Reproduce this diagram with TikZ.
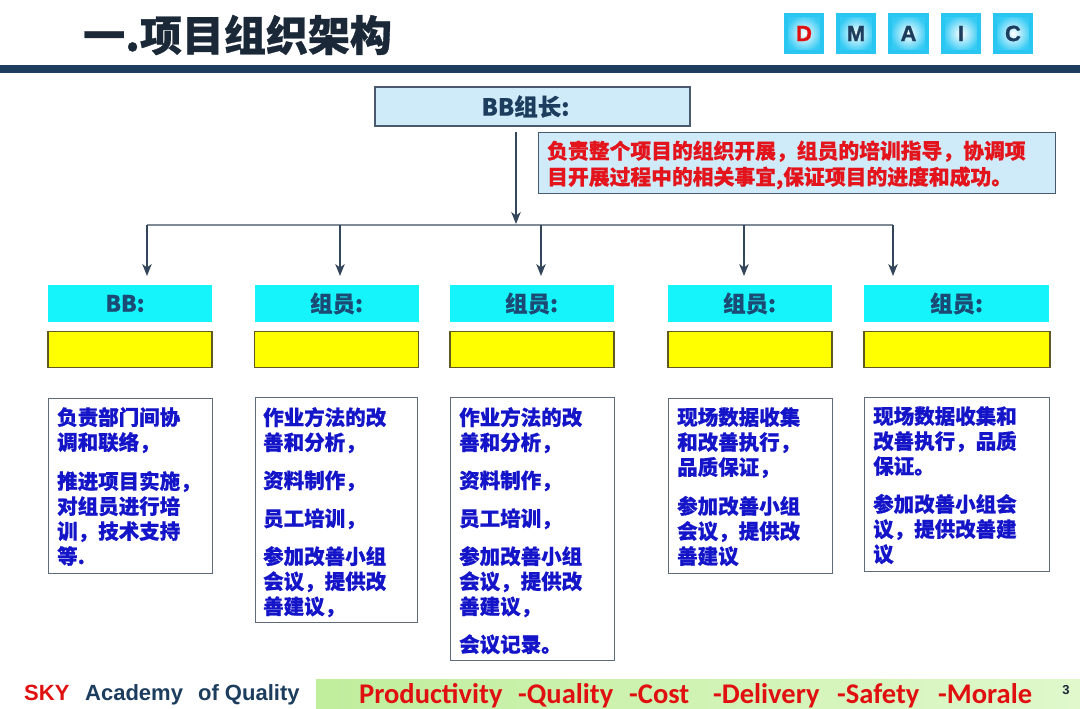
\documentclass[tikz,border=0pt]{standalone}
\usepackage{fontspec}
\setmainfont{Liberation Sans}
\newfontfamily\cjk{Noto Sans CJK SC}[BoldFeatures={FakeBold=0.7}]
\newfontfamily\heavy{Liberation Sans}[BoldFeatures={FakeBold=1.2}]
\newfontfamily\carl{Carlito}
\usetikzlibrary{arrows.meta}
\definecolor{navy}{HTML}{1C3D5E}
\definecolor{titlec}{HTML}{1A2838}
\definecolor{dcyan}{HTML}{2AC6F2}
\definecolor{dinner}{HTML}{34CAF4}
\definecolor{dred}{HTML}{E01010}
\definecolor{lblue}{HTML}{CFEAF8}
\definecolor{edgec}{HTML}{4A5A6E}
\definecolor{redt}{HTML}{E3141C}
\definecolor{arrc}{HTML}{34465C}
\definecolor{linec}{HTML}{7E8A96}
\definecolor{cyanf}{HTML}{14F4FA}
\definecolor{yelf}{HTML}{FFFF00}
\definecolor{yeld}{HTML}{5E5A22}
\definecolor{labc}{HTML}{1B4A74}
\definecolor{boxgray}{HTML}{5E6C7A}
\definecolor{txtblue}{HTML}{1414C8}
\definecolor{greenl}{HTML}{C0EE9C}
\definecolor{greenr}{HTML}{E0F8CC}
\tikzset{
  dmaic/.style={draw=dcyan, line width=4pt, inner color=white, outer color=dinner,
    minimum width=36.5, minimum height=37.5, inner sep=0,
    font=\heavy\bfseries\fontsize{22}{22}\selectfont},
  lbox/.style={draw=edgec, line width=1.2pt, fill=lblue, inner sep=0},
  arr/.style={draw=arrc, line width=1.3pt, -{Stealth[length=12pt,width=9.5pt,inset=3.5pt]}},
  conn/.style={draw=linec, line width=2pt},
  cbox/.style={fill=cyanf, minimum width=164, minimum height=37, inner sep=0,
    text=labc, font=\cjk\bfseries\fontsize{22.5}{22.5}\selectfont},
  ybox/.style={draw=yeld, line width=1.1pt, fill=yelf, minimum width=164, minimum height=36, inner sep=0},
  tbox/.style={draw=boxgray, line width=1.2pt, fill=white, anchor=north west, inner sep=0},
  txt/.style={anchor=north west, inner sep=0, align=left, text=txtblue,
    font=\cjk\bfseries\fontsize{20.5}{25}\selectfont},
  foot/.style={anchor=base west, inner sep=0, text=dred, font=\carl\bfseries\fontsize{28.5}{28.5}\selectfont}
}
\begin{document}
\begin{tikzpicture}[x=1pt,y=-1pt]
\useasboundingbox (0,0) rectangle (1080,709);
\fill[white] (0,0) rectangle (1080,709);

% title and header bar
\node[anchor=west, inner sep=0, text=titlec, font=\cjk\bfseries\fontsize{42}{42}\selectfont] (title) at (83,35) {一.项目组织架构};
\fill[navy] (0,65) rectangle (1080,73);

% DMAIC
\node[dmaic, text=dred] (dD) at (804,33.5) {D};
\node[dmaic, text=navy] (dM) at (856,33.5) {M};
\node[dmaic, text=navy] (dA) at (908.5,33.5) {A};
\node[dmaic, text=navy] (dI) at (961,33.5) {I};
\node[dmaic, text=navy] (dC) at (1013,33.5) {C};

% leader box
\node[lbox, minimum width=315, minimum height=39, text=navy,
  font=\cjk\bfseries\fontsize{23.5}{23.5}\selectfont] (bbl) at (532.5,106.5) {BB组长:\hspace*{14pt}};

% description box
\node[lbox, anchor=north west, minimum width=517, minimum height=61] (desc) at (538,132) {};
\node[anchor=north west, inner sep=0, align=left, text=redt,
  font=\cjk\bfseries\fontsize{20.8}{26}\selectfont] (desct) at (547,140.5)
  {负责整个项目的组织开展，组员的培训指导，协调项\\目开展过程中的相关事宜,保证项目的进度和成功。};

% connectors
\coordinate (top) at (516,132);
\coordinate (junc) at (516,224);
\draw[arr] (top) -- (junc);
\coordinate (hl) at (147,225);
\coordinate (hr) at (893,225);
\draw[conn] (hl) -- (hr);
\foreach \i/\x in {1/147,2/340,3/541,4/744,5/893}{
  \coordinate (s\i) at (\x,225);
  \coordinate (e\i) at (\x,276);
  \draw[arr] (s\i) -- (e\i);
}

% cyan label boxes
\node[cbox] (c1) at (130,303.5) {BB:\hspace*{10pt}};
\node[cbox] (c2) at (336.5,303.5) {组员:};
\node[cbox] (c3) at (531.5,303.5) {组员:};
\node[cbox] (c4) at (749.5,303.5) {组员:};
\node[cbox, minimum width=185] (c5) at (956.5,303.5) {组员:};

% yellow boxes
\node[ybox] (y1) at (130,349.5) {};
\node[ybox] (y2) at (336.5,349.5) {};
\node[ybox] (y3) at (532,349.5) {};
\node[ybox] (y4) at (750,349.5) {};
\node[ybox, minimum width=186] (y5) at (957,349.5) {};

% text boxes
\node[tbox, minimum width=164, minimum height=175] (b1) at (48,398) {};
\node[tbox, minimum width=162, minimum height=225] (b2) at (255,397) {};
\node[tbox, minimum width=164, minimum height=263] (b3) at (450,397) {};
\node[tbox, minimum width=164, minimum height=175] (b4) at (668,398) {};
\node[tbox, minimum width=185, minimum height=174] (b5) at (864,397) {};

\node[txt] (t1) at (57,407) {负责部门间协\\调和联络，\\[14pt]推进项目实施，\\对组员进行培\\训，技术支持\\等.};
\node[txt] (t2) at (263,407) {作业方法的改\\善和分析，\\[13pt]资料制作，\\[13pt]员工培训，\\[13pt]参加改善小组\\会议，提供改\\善建议，};
\node[txt] (t3) at (459,407) {作业方法的改\\善和分析，\\[13pt]资料制作，\\[13pt]员工培训，\\[13pt]参加改善小组\\会议，提供改\\善建议，\\[13pt]会议记录。};
\node[txt] (t4) at (677,407) {现场数据收集\\和改善执行，\\品质保证，\\[14pt]参加改善小组\\会议，提供改\\善建议};
\node[txt] (t5) at (873,406) {现场数据收集和\\改善执行，品质\\保证。\\[13pt]参加改善小组会\\议，提供改善建\\议};

% footer
\node[anchor=base west, inner sep=0, text=dred, font=\bfseries\fontsize{22}{22}\selectfont] (sky) at (24,700) {SKY};
\node[anchor=base west, inner sep=0, text=navy, font=\bfseries\fontsize{22}{22}\selectfont] (aq) at (85,700) {Academy\hspace{9pt} of Quality};
\shade[left color=greenl, right color=greenr] (316,679) rectangle (1080,709);
\node[foot] (f1) at (359,703) {Productivity};
\node[foot] (f2) at (518,703) {-Quality};
\node[foot] (f3) at (629,703) {-Cost};
\node[foot] (f4) at (713,703) {-Delivery};
\node[foot] (f5) at (837,703) {-Safety};
\node[foot] (f6) at (938,703) {-Morale};
\node[inner sep=0, text=titlec, font=\bfseries\fontsize{13}{13}\selectfont] (pg) at (1066,690) {3};
\end{tikzpicture}
\end{document}
